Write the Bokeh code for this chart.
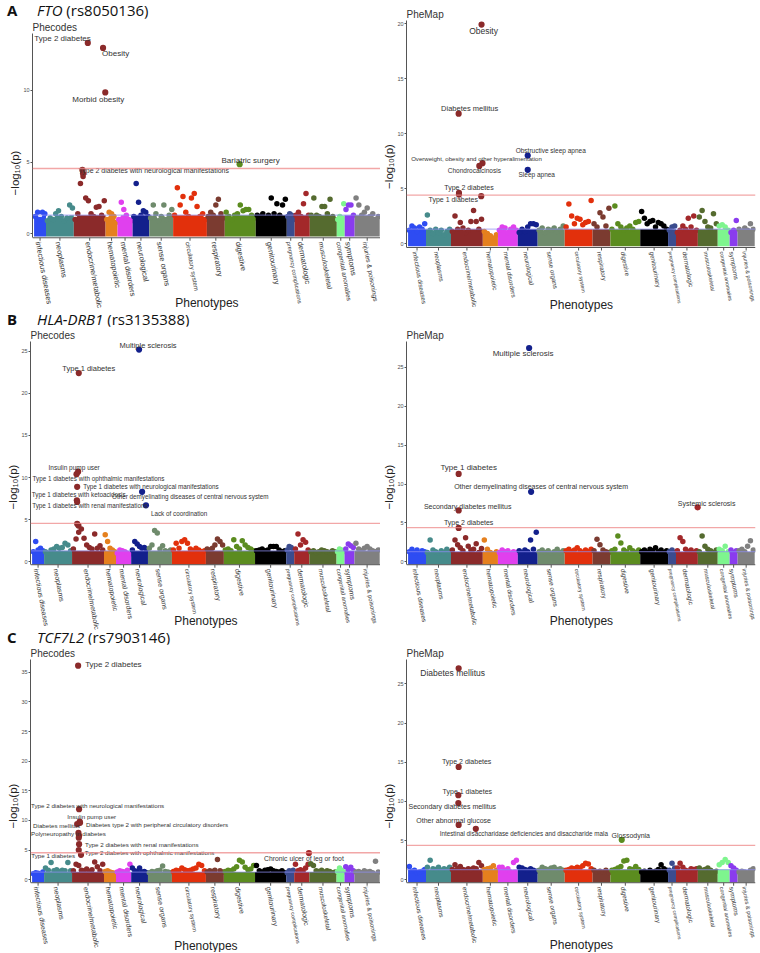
import numpy as np
from bokeh.embed import file_html
from bokeh.layouts import column, row
from bokeh.models import Div, FixedTicker, Label, Range1d, Span, Title
from bokeh.plotting import figure
from bokeh.resources import INLINE

# ---------------- data ----------------
CATEGORIES = ["infectious diseases", "neoplasms", "endocrine/metabolic", "hematopoietic",
              "mental disorders", "neurological", "sense organs", "circulatory system",
              "respiratory", "digestive", "genitourinary", "pregnancy complications",
              "dermatologic", "musculoskeletal", "congenital anomalies", "symptoms",
              "injuries & poisonings"]
CATEGORY_COLORS = ["#2E4CF2", "#468B8B", "#8B2A2A", "#E5801E", "#E040EE", "#13208C",
                   "#6F8B6C", "#E2300C", "#7B3B30", "#5B8C1F", "#000000", "#3B4C8E",
                   "#A3282A", "#556B2F", "#7EF58E", "#8A3CEE", "#808080"]
# number of phenotypes per category (x extent)
PHECODE_COUNTS = [60, 140, 160, 60, 76, 84, 120, 170, 90, 156, 156, 40, 76, 136, 40, 50, 126]
PHEMAP_COUNTS = [90, 126, 160, 76, 100, 100, 136, 140, 90, 150, 140, 40, 110, 100, 60, 40, 86]

# -log10(p) of background phenotypes, one list per category, in x order
FTO_PHECODES = [
    [1.2, 1.5, 1.0, 1.5, 1.4],
    [0.9, 1.1, 1.0, 1.4, 1.6, 1.2, 0.9, 1.1, 2.0, 1.8],
    [1.0, 1.4, 3.5, 4.0, 2.5, 2.3, 1.4, 1.2, 1.85, 1.9, 1.3, 2.3],
    [1.0, 1.5, 1.4, 1.2, 0.8],
    [1.0, 2.2, 1.7, 1.3, 1.0, 0.9],
    [1.2, 3.5, 2.2, 1.3, 1.6, 1.5, 1.2],
    [1.1, 2.0, 1.4, 0.9, 1.2, 2.0, 1.0, 1.3, 1.7],
    [1.3, 3.2, 2.0, 2.6, 1.5, 1.2, 2.5, 2.8, 1.9, 1.2, 1.4, 1.0],
    [1.2, 1.5, 1.3, 2.0, 2.4, 1.4, 1.1],
    [1.5, 1.2, 1.0, 1.3, 1.4, 2.0, 1.6, 1.7, 1.7, 1.3, 1.1],
    [1.3, 1.2, 1.4, 1.1, 1.3, 2.5, 1.4, 2.1, 1.3, 2.0, 2.4],
    [1.2, 1.4, 1.3, 1.0],
    [1.3, 1.5, 1.2, 2.1, 2.8, 1.3],
    [1.3, 2.5, 1.3, 1.2, 1.9, 1.9, 1.4, 2.4, 1.2, 1.0],
    [1.0, 1.2, 1.1, 2.1],
    [1.7, 2.0, 2.0, 1.3],
    [2.5, 2.0, 1.3, 1.5, 1.8, 1.2, 1.4, 1.0, 1.2],
]
# (label, category index, position within category, -log10(p))
FTO_PHECODES_HITS = [
    ("Type 2 diabetes", 2, 0.44, 13.3),
    ("Obesity", 2, 0.92, 12.95),
    ("Morbid obesity", 2, 0.99, 9.85),
    ("Type 2 diabetes with neurological manifestations", 2, 0.27, 4.45),
    ("", 2, 0.29, 4.2),
    ("Bariatric surgery", 9, 0.48, 4.85),
]

FTO_PHEMAP = [
    [1.2, 1.6, 1.4, 1.1, 1.5, 1.3, 1.8],
    [2.6, 1.2, 0.9, 1.3, 1.0, 1.2, 0.8, 1.1, 1.3],
    [1.1, 2.5, 1.3, 1.9, 1.4, 1.0, 1.2, 2.0, 3.0, 2.0, 1.3, 2.2],
    [1.1, 0.9, 0.7, 0.5, 0.8],
    [1.2, 1.5, 1.4, 1.0, 1.3, 1.5, 1.2],
    [1.0, 1.3, 1.1, 1.5, 1.8, 1.8, 1.7],
    [1.2, 1.4, 1.0, 1.3, 1.2, 1.4, 1.1, 1.3, 1.6],
    [1.5, 3.6, 2.5, 1.8, 2.3, 2.2, 1.7, 1.9, 2.0, 3.9],
    [1.8, 1.5, 2.8, 2.4, 1.6, 3.2],
    [1.3, 3.4, 1.8, 1.5, 1.2, 1.4, 1.6, 1.3, 1.9, 2.0],
    [2.9, 2.3, 1.8, 2.0, 2.1, 1.5, 1.9, 1.8, 1.6, 1.3],
    [1.2, 1.5, 1.6],
    [1.0, 1.2, 1.6, 1.3, 2.3, 1.5, 2.5, 1.2],
    [2.4, 3.0, 2.0, 1.5, 1.4, 2.7, 1.8],
    [1.6, 1.7, 1.5, 1.2],
    [1.0, 1.2, 2.1],
    [1.3, 1.1, 1.4, 1.2, 1.8, 1.3],
]
FTO_PHEMAP_HITS = [
    ("Obesity", 2, 0.96, 19.9),
    ("Diabetes mellitus", 2, 0.24, 11.8),
    ("Obstructive sleep apnea", 5, 0.5, 8.0),
    ("Overweight, obesity and other hyperalimentation", 2, 0.99, 7.3),
    ("Chondrocalcinosis", 2, 0.89, 7.05),
    ("Sleep apnea", 5, 0.5, 6.7),
    ("Type 2 diabetes", 2, 0.25, 4.6),
    ("", 2, 0.25, 4.45),
    ("Type 1 diabetes", 2, 0.95, 4.3),
]

HLA_PHECODES = [
    [1.2, 2.4, 1.4, 1.6, 1.3],
    [1.2, 1.0, 1.4, 1.5, 1.8, 1.6, 1.7, 2.2, 2.0, 1.3],
    [1.5, 2.7, 3.5, 3.9, 2.8, 2.0, 1.7, 1.5, 3.3, 1.6, 1.9, 1.4],
    [3.2, 2.4, 1.6, 1.4, 1.2],
    [1.0, 1.4, 1.3, 1.2, 1.0, 0.9],
    [1.4, 2.4, 2.1, 1.8, 1.6, 1.7, 1.3],
    [1.6, 2.0, 3.7, 3.4, 1.5, 1.9, 1.3, 1.2, 1.4],
    [1.4, 2.2, 1.6, 2.4, 2.6, 2.2, 1.5, 1.3, 1.6, 1.4, 1.2, 1.3],
    [1.5, 1.4, 1.6, 2.0, 2.7, 2.4, 2.0],
    [1.4, 1.5, 1.3, 2.6, 1.8, 1.5, 2.5, 2.0, 1.7, 1.5, 1.3],
    [1.3, 1.4, 1.5, 1.3, 1.4, 1.8, 1.8, 1.8, 1.4, 1.2, 1.3],
    [1.4, 1.8, 1.7, 1.3],
    [1.5, 3.3, 2.0, 2.6, 2.3, 1.4],
    [1.2, 1.3, 1.1, 1.2, 1.4, 1.3, 1.2, 1.1, 1.3, 1.2],
    [1.2, 1.5, 1.4, 1.2],
    [1.5, 2.1, 1.9, 1.7],
    [2.2, 1.5, 1.3, 1.6, 1.8, 1.5, 1.3, 1.2, 1.4],
]
HLA_PHECODES_HITS = [
    ("Multiple sclerosis", 5, 0.47, 25.2),
    ("Type 1 diabetes", 2, 0.21, 22.4),
    ("Insulin pump user", 2, 0.19, 10.7),
    ("Type 1 diabetes with ophthalmic manifestations", 2, 0.14, 10.4),
    ("Type 1 diabetes with neurological manifestations", 2, 0.16, 8.9),
    ("Type 1 diabetes with ketoacidosis", 2, 0.15, 7.3),
    ("Other demyelinating diseases of central nervous system", 5, 0.65, 8.3),
    ("Type 1 diabetes with renal manifestations", 2, 0.16, 7.1),
    ("Lack of coordination", 5, 0.88, 6.7),
    ("", 2, 0.16, 4.5),
    ("", 2, 0.2, 4.3),
]

HLA_PHEMAP = [
    [1.3, 1.6, 1.2, 1.5, 1.1, 1.4, 1.3],
    [1.2, 2.8, 1.5, 1.3, 1.1, 1.4, 1.2, 1.6, 1.3],
    [1.5, 2.8, 2.2, 1.8, 1.4, 3.1, 2.0, 1.5, 1.6, 2.3, 1.2, 1.7],
    [2.8, 1.6, 1.2, 1.0, 1.3],
    [1.2, 1.5, 1.3, 1.4, 1.1, 1.3, 1.2],
    [1.4, 1.2, 1.5, 1.3, 2.8, 1.6, 3.8],
    [1.3, 1.5, 1.2, 1.4, 1.1, 1.3, 1.6, 1.2, 1.4],
    [1.4, 1.6, 1.3, 1.5, 1.8, 1.4, 1.2, 1.5, 1.3, 1.6],
    [1.4, 2.9, 2.2, 1.5, 1.3, 1.2],
    [1.4, 1.6, 3.3, 2.4, 1.5, 1.3, 1.8, 1.4, 1.2, 1.5],
    [1.3, 1.5, 1.2, 1.6, 1.4, 1.8, 1.3, 1.5, 1.2, 1.4],
    [1.3, 1.5, 1.2],
    [1.4, 3.1, 2.6, 1.6, 1.3, 1.5, 1.2, 1.4],
    [1.3, 3.3, 2.0, 1.6, 1.4, 1.2, 1.5],
    [1.6, 1.4, 2.0, 1.3],
    [1.5, 1.2, 1.4],
    [1.4, 1.6, 1.3, 2.0, 2.7, 1.5],
]
HLA_PHEMAP_HITS = [
    ("Multiple sclerosis", 5, 0.57, 27.5),
    ("Type 1 diabetes", 2, 0.24, 11.3),
    ("Other demyelinating diseases of central nervous system", 5, 0.67, 9.0),
    ("Secondary diabetes mellitus", 2, 0.24, 6.6),
    ("Systemic sclerosis", 12, 0.99, 7.0),
    ("Type 2 diabetes", 2, 0.24, 4.35),
]

TCF_PHECODES = [
    [1.0, 1.2, 1.1, 0.9, 1.3],
    [2.0, 1.6, 2.9, 1.5, 1.7, 1.4, 1.6, 1.5, 2.9, 1.5],
    [1.5, 2.6, 2.4, 1.6, 1.5, 1.8, 1.4, 1.7, 3.0, 2.2, 1.5, 2.6],
    [1.4, 1.5, 1.3, 1.2, 1.1],
    [1.3, 1.5, 1.4, 1.3, 1.6, 2.6],
    [2.0, 1.5, 1.4, 2.0, 1.3, 1.4, 1.2],
    [1.2, 1.4, 1.3, 1.5, 1.6, 2.3, 1.4, 1.3, 1.2],
    [1.4, 1.6, 1.5, 2.0, 1.7, 1.5, 1.6, 1.8, 2.0, 2.6, 2.4, 1.5],
    [1.3, 1.5, 1.4, 1.6, 3.4, 1.5, 1.3],
    [1.4, 1.6, 1.5, 1.8, 2.2, 3.3, 3.0, 2.1, 1.7, 1.8, 2.4],
    [2.4, 1.5, 1.3, 1.6, 1.7, 1.8, 1.5, 1.4, 1.3, 1.5, 1.2],
    [1.2, 1.5, 1.4, 1.6],
    [2.6, 1.5, 1.7, 1.4, 2.0, 2.6],
    [2.7, 2.4, 1.5, 1.4, 1.6, 1.3, 1.5, 1.4, 1.2, 1.3],
    [1.4, 2.0, 1.6, 1.3],
    [2.2, 1.7, 2.1, 1.5],
    [1.3, 1.4, 1.2, 1.5, 1.3, 1.4, 1.2, 3.1, 1.3],
]
TCF_PHECODES_HITS = [
    ("Type 2 diabetes", 2, 0.19, 36.1),
    ("Type 2 diabetes with neurological manifestations", 2, 0.22, 11.9),
    ("Insulin pump user", 2, 0.24, 9.8),
    ("Diabetes mellitus", 2, 0.16, 9.4),
    ("Diabetes type 2 with peripheral circulatory disorders", 2, 0.25, 9.6),
    ("Polyneuropathy in diabetes", 2, 0.22, 7.4),
    ("", 2, 0.2, 7.9),
    ("", 2, 0.21, 7.1),
    ("Type 2 diabetes with renal manifestations", 2, 0.22, 6.0),
    ("Type 2 diabetes with ophthalmic manifestations", 2, 0.21, 5.0),
    ("Type 1 diabetes", 2, 0.28, 4.2),
    ("Chronic ulcer of leg or foot", 12, 0.97, 4.5),
]

TCF_PHEMAP = [
    [1.7, 1.1, 1.2, 0.9, 1.0, 1.1, 1.3],
    [1.6, 2.5, 1.4, 1.3, 1.6, 1.2, 1.4, 1.3, 1.6],
    [1.3, 1.9, 1.4, 1.7, 1.3, 1.2, 1.4, 1.3, 1.5, 1.4, 2.2, 1.8],
    [1.3, 1.4, 1.5, 1.8, 1.2],
    [1.6, 1.6, 1.2, 1.4, 1.0, 2.2, 2.5],
    [1.6, 1.5, 1.3, 1.2, 1.4, 1.2, 1.1],
    [1.2, 1.6, 1.4, 1.3, 1.5, 1.6, 1.3, 1.4, 1.2],
    [1.2, 1.3, 1.5, 1.4, 1.6, 1.5, 1.8, 2.1, 2.0, 1.4],
    [1.2, 1.0, 1.1, 1.0, 1.2, 0.9],
    [1.2, 1.3, 1.5, 1.7, 2.4, 2.5, 1.4, 1.3, 1.7, 1.3],
    [1.0, 1.1, 0.9, 1.2, 1.0, 1.1, 1.3, 1.9, 1.4, 1.2],
    [1.2, 2.1, 1.5],
    [1.5, 2.1, 1.6, 1.2, 1.1, 1.4, 1.3, 1.4],
    [1.5, 1.2, 1.3, 1.5, 1.2, 1.0, 1.1],
    [1.9, 2.2, 2.6, 2.2],
    [1.8, 1.5, 1.2],
    [1.0, 1.1, 1.0, 0.9, 1.2, 1.4],
]
TCF_PHEMAP_HITS = [
    ("Diabetes mellitus", 2, 0.24, 27.0),
    ("Type 2 diabetes", 2, 0.24, 14.4),
    ("Type 1 diabetes", 2, 0.23, 10.8),
    ("Secondary diabetes mellitus", 2, 0.23, 9.8),
    ("Other abnormal glucose", 2, 0.24, 7.0),
    ("Intestinal disaccharidase deficiencies and disaccharide mala", 2, 0.78, 6.5),
    ("Glossodynia", 9, 0.38, 5.1),
]

NOMINAL_LINE = 1.3          # -log10(0.05)
PHECODE_THRESHOLD = 4.55    # Bonferroni line, Phecodes
PHEMAP_THRESHOLD = 4.4      # Bonferroni line, PheMap

# ---------------- styling ----------------
FONT = "Liberation Sans"
DOT = 5.5
HIT_DOT = 6.2
AXIS_COLOR = "#555555"
CAT_SCALE = [1, 1, 1, 1, 1, 1, 1, 0.83, 1, 1, 1, 0.76, 1, 0.9, 0.85, 1, 0.88]

# label placement: (dx px right, dy px down, align, font px)
L_FTO_PHECODES = [(3, -4, "right", 8), (-1, 6, "left", 8), (-7, 7, "center", 8),
                  (-4, 1, "left", 7), None, (11, -4, "center", 8)]
L_FTO_PHEMAP = [(2, 6, "center", 8.5), (11, -5, "center", 7.5), (23, -5, "center", 6.5),
                (-6, -5, "center", 6.1), (-5, 5, "center", 6.5), (9, 5, "center", 6.5),
                (10, -5, "center", 7), None, (-28, 3, "center", 7)]
L_HLA_PHECODES = [(9, -4, "center", 7.5), (10, -5, "center", 7.5), (-4, -4, "center", 6.5),
                  (-44, 4, "left", 6.3), (6, 0, "left", 6.3), (-45, -6, "left", 6.3),
                  (-30, 5, "left", 6.3), (-45, 4, "left", 6.3), (5, 8, "left", 6.3), None, None]
L_HLA_PHEMAP = [(-6, 6, "center", 8), (10, -6, "center", 8), (10, -5, "center", 7),
                (9, -4, "center", 7), (9, -4, "center", 7), (10, -5, "center", 7)]
L_TCF_PHECODES = [(7, -1, "left", 8), (-48, -4, "left", 6.2), (12, -5, "center", 6.2),
                  (3, 1, "right", 6.2), (6, 2, "left", 6.2), (-48, -2, "left", 6.2), None, None,
                  (6, 0, "left", 6.2), (6, 2, "left", 6.2), (-6, 1, "right", 6.2),
                  (-5, 5, "center", 6.8)]
L_TCF_PHEMAP = [(-6, 5, "center", 8.5), (8, -5, "center", 7), (9, -4, "center", 7),
                (-6, 4, "center", 7), (-5, -4, "center", 7), (48, 5, "center", 6.3),
                (9, -4, "center", 7)]


def manhattan(title, counts, background, hits, layout, threshold, width, geom, left, right,
              cat_font):
    """geom = (fig_top, title_border, zero_px, fig_bottom, px_per_unit, axis_gap, pheno_px),
    all in page pixels."""
    fig_top, tb, zero_px, fig_bottom, ppu, gap, pheno_px = geom
    height = fig_bottom - fig_top
    frame_top = fig_top + tb
    ymax = (zero_px - frame_top) / ppu
    ymin = -(fig_bottom - zero_px) / ppu
    axis_y = -gap / ppu
    total = sum(counts)
    starts = np.concatenate([[0], np.cumsum(counts)[:-1]])
    x0, x1 = -8, total + 4

    p = figure(width=width, height=height, x_range=Range1d(x0, x1),
               y_range=Range1d(ymin, ymax), output_backend="svg", toolbar_location=None,
               title=title, x_axis_location=None, min_border_left=left,
               min_border_right=right, min_border_top=tb, min_border_bottom=0)
    r_units = (DOT / 2) / ppu

    for ci, vals in enumerate(background):
        col = CATEGORY_COLORS[ci]
        n = len(vals)
        xs = starts[ci] + (np.arange(n) + 0.5) / n * counts[ci]
        v = np.asarray(vals, float)
        band = np.minimum(v, NOMINAL_LINE)
        ax = np.concatenate([[starts[ci]], xs, [starts[ci] + counts[ci]]])
        ay = np.concatenate([[band[0]], band, [band[-1]]])
        p.varea(x=ax, y1=-r_units, y2=ay, fill_color=col)
        p.scatter(xs, v, size=DOT, fill_color=col, line_color=None)

    for (label, ci, frac, val), lay in zip(hits, layout):
        x = starts[ci] + frac * counts[ci]
        p.scatter([x], [val], size=HIT_DOT, fill_color=CATEGORY_COLORS[ci], line_color=None)
        if label and lay:
            dx, dy, align, fs = lay
            p.add_layout(Label(x=x, y=val, x_offset=dx, y_offset=-dy, text=label,
                               text_align=align, text_baseline="middle", text_font=FONT,
                               text_font_size=f"{fs}px", text_color="#333333"))

    p.add_layout(Span(location=NOMINAL_LINE, dimension="width", line_color="#8C8CF2",
                      line_alpha=0.6, line_width=1.3))
    p.add_layout(Span(location=threshold, dimension="width", line_color="#EE8A8A",
                      line_alpha=0.75, line_width=1.3))

    # x axis: line, ticks, rotated category names, axis title
    centers = [int(s + c // 2) for s, c in zip(starts, counts)]
    p.segment(x0=[x0], y0=[axis_y], x1=[x1], y1=[axis_y], line_color=AXIS_COLOR, line_width=1)
    tick_end = -(gap + 3) / ppu
    p.segment(x0=centers, y0=[axis_y] * len(centers), x1=centers, y1=[tick_end] * len(centers),
              line_color=AXIS_COLOR, line_width=1)
    lab_y = -(gap + 4) / ppu
    for ci, name in enumerate(CATEGORIES):
        p.add_layout(Label(x=centers[ci], y=lab_y, x_offset=-2, text=name, angle=-1.39,
                           text_align="left", text_baseline="middle", text_font=FONT,
                           text_font_size=f"{cat_font * CAT_SCALE[ci]:.2f}px",
                           text_color="#333333"))
    p.add_layout(Label(x=total / 2, y=-(pheno_px - zero_px) / ppu, text="Phenotypes",
                       text_align="center", text_baseline="middle", text_font=FONT,
                       text_font_size="12px", text_color="#222222"))

    p.xgrid.visible = False
    p.ygrid.visible = False
    p.outline_line_color = None
    p.title.text_font = FONT
    p.title.text_font_size = "10px"
    p.title.text_font_style = "normal"
    p.title.text_color = "#333333"
    p.title.standoff = 2
    p.title.offset = 0

    ya = p.yaxis[0]
    ya.ticker = FixedTicker(ticks=list(range(0, int(ymax) + 1, 5)))
    ya.bounds = (axis_y, ymax)
    ya.major_label_text_font_size = "5.5px"
    ya.major_label_text_color = "#4D4D4D"
    ya.major_label_text_font = FONT
    ya.major_label_standoff = 1
    ya.major_tick_out = 2
    ya.major_tick_in = 0
    ya.minor_tick_out = 0
    ya.minor_tick_in = 0
    ya.axis_line_color = AXIS_COLOR
    ya.major_tick_line_color = AXIS_COLOR
    axis_px = zero_px + gap
    p.add_layout(Title(text="\u2212log\u2081\u2080(p)", align="center",
                       offset=(fig_bottom - axis_px) / 2, text_font=FONT,
                       text_font_size="11.5px", text_font_style="normal",
                       text_color="#222222", standoff=0), "left")
    return p


def heading(letter, gene, snp, width, height, shift):
    html = (f'<div style="position:relative;top:{shift}px;height:{height}px;'
            f'line-height:{height}px;font-family:\'Open Sans\',sans-serif;font-size:15px;'
            f'color:#111;white-space:nowrap;">'
            f'<span style="display:inline-block;width:37px;padding-left:7px;'
            f'box-sizing:border-box;font-weight:bold;">{letter}</span>'
            f'<i>{gene}</i> ({snp})</div>')
    return Div(text=html, width=width, height=height, margin=(0, 0, 0, 0))


LW, RW = 380, 380

a_left = manhattan("Phecodes", PHECODE_COUNTS, FTO_PHECODES, FTO_PHECODES_HITS, L_FTO_PHECODES,
                   PHECODE_THRESHOLD, LW, (18, 14, 233, 312, 14.4, 4, 302), 32, 0, 7.5)
a_right = manhattan("PheMap", PHEMAP_COUNTS, FTO_PHEMAP, FTO_PHEMAP_HITS, L_FTO_PHEMAP,
                    PHEMAP_THRESHOLD, RW, (0, 20, 243, 312, 11.0, 4, 304), 23, 5, 6.3)
b_left = manhattan("Phecodes", PHECODE_COUNTS, HLA_PHECODES, HLA_PHECODES_HITS, L_HLA_PHECODES,
                   PHECODE_THRESHOLD, LW, (326, 14, 561, 632, 8.45, 3, 620), 30, 0, 6.9)
b_right = manhattan("PheMap", PHEMAP_COUNTS, HLA_PHEMAP, HLA_PHEMAP_HITS, L_HLA_PHEMAP,
                    PHEMAP_THRESHOLD, RW, (326, 14, 561, 632, 7.8, 3, 620), 23, 5, 6.4)
c_left = manhattan("Phecodes", PHECODE_COUNTS, TCF_PHECODES, TCF_PHECODES_HITS, L_TCF_PHECODES,
                   PHECODE_THRESHOLD, LW, (644, 14, 879, 952, 5.95, 3, 945), 30, 0, 6.9)
c_right = manhattan("PheMap", PHEMAP_COUNTS, TCF_PHEMAP, TCF_PHEMAP_HITS, L_TCF_PHEMAP,
                    PHEMAP_THRESHOLD, RW, (644, 14, 879, 952, 7.86, 3, 944), 23, 5, 6.4)

layout = column(
    row(column(heading("A", "FTO", "rs8050136", LW, 18, 1), a_left), a_right),
    heading("B", "HLA-DRB1", "rs3135388", LW + RW, 14, 0),
    row(b_left, b_right),
    heading("C", "TCF7L2", "rs7903146", LW + RW, 12, -1),
    row(c_left, c_right),
)

with open("out.html", "w") as f:
    f.write(file_html(layout, INLINE))
